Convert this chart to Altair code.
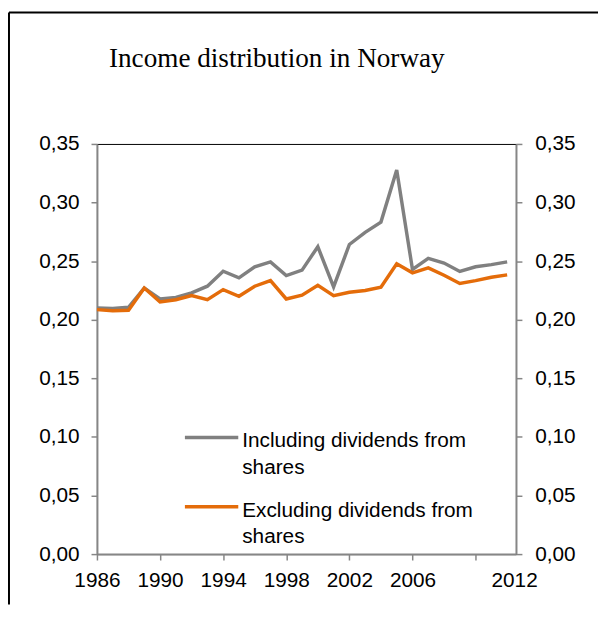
import altair as alt
import pandas as pd

# ---- data ----
years = list(range(1986, 2013))
including = [0.2100, 0.2097, 0.2106, 0.2271, 0.2177, 0.2190, 0.2229, 0.2286, 0.2414,
             0.2357, 0.2451, 0.2494, 0.2377, 0.2423, 0.2623, 0.2280, 0.2642, 0.2746,
             0.2833, 0.3277, 0.2429, 0.2523, 0.2484, 0.2412, 0.2452, 0.2470, 0.2494]
excluding = [0.2086, 0.2077, 0.2080, 0.2271, 0.2151, 0.2171, 0.2206, 0.2171, 0.2257,
             0.2200, 0.2286, 0.2334, 0.2177, 0.2209, 0.2294, 0.2206, 0.2234, 0.2249,
             0.2277, 0.2477, 0.2400, 0.2443, 0.2380, 0.2309, 0.2334, 0.2363, 0.2383]
series_names = ["Including dividends from shares", "Excluding dividends from shares"]
series_colors = ["#808080", "#E46C0A"]
x_tick_values = [1986, 1990, 1994, 1998, 2002, 2006, 2010]
x_last_label = 2012.44
y_tick_values = [0.0, 0.05, 0.10, 0.15, 0.20, 0.25, 0.30, 0.35]
title_text = "Income distribution in Norway"

df = pd.DataFrame({
    "year": years * 2,
    "value": including + excluding,
    "series": [series_names[0]] * len(years) + [series_names[1]] * len(years),
    "order": [0] * len(years) + [1] * len(years),
})

AXIS_GREY = "#868686"
SANS = "Liberation Sans"
FS = 21
W, H = 424, 415

color_enc = alt.Color("series:N", scale=alt.Scale(domain=series_names, range=series_colors), legend=None)

x_enc = alt.X(
    "year:Q",
    scale=alt.Scale(domain=[1986, 2012.56], nice=False, zero=False),
    axis=alt.Axis(
        values=x_tick_values + [x_last_label], format="d",
        labelExpr="datum.value == 2010 ? '' : datum.label",
        tickOpacity={"condition": {"test": "datum.value > 2011", "value": 0}, "value": 1},
        labelOverlap=False, labelFlush=False, grid=False, title=None,
        tickSize=6, labelPadding=9.5,
    ),
)

y_scale = alt.Scale(domain=[0, 0.35], nice=False)
ylab = "replace(format(datum.value, '.2f'), '.', ',')"

lines = alt.Chart(df).mark_line(strokeWidth=3.5).encode(
    x=x_enc,
    y=alt.Y("value:Q", scale=y_scale,
            axis=alt.Axis(values=y_tick_values, labelExpr=ylab, grid=False, title=None,
                          orient="left", tickSize=6, labelPadding=12)),
    color=color_enc,
    detail="order:N",
)

right_axis = alt.Chart(df).mark_line(opacity=0).encode(
    x=x_enc,
    y=alt.Y("value:Q", scale=y_scale,
            axis=alt.Axis(values=y_tick_values, labelExpr=ylab, grid=False, title=None,
                          orient="right", tickSize=6, labelPadding=13)),
)

one = pd.DataFrame({"a": [0]})
frame_top = alt.Chart(one).mark_rule(color="black", strokeWidth=2).encode(
    x=alt.value(-89), x2=alt.value(507), y=alt.value(-133))
frame_left = alt.Chart(one).mark_rule(color="black", strokeWidth=2).encode(
    x=alt.value(-89), y=alt.value(-133), y2=alt.value(466))

title = alt.Chart(one).mark_text(
    text=title_text, font="Liberation Serif", fontSize=27.5, align="center",
    baseline="alphabetic", color="black").encode(x=alt.value(182), y=alt.value(-78))

legend_df = pd.DataFrame({
    "series": series_names,
    "label": [s.replace(" shares", "\nshares") for s in series_names],
})
legend_layers = []
for i in range(len(series_names)):
    row = legend_df.iloc[[i]]
    legend_layers.append(
        alt.Chart(row).mark_rule(strokeWidth=3.5).encode(
            x=alt.value(89), x2=alt.value(143), y=alt.value(297 + 70 * i), color=color_enc))
    legend_layers.append(
        alt.Chart(row).mark_text(align="left", baseline="alphabetic", font=SANS, fontSize=FS,
                                 lineBreak="\n", lineHeight=27, color="black").encode(
            x=alt.value(147), y=alt.value(307 + 70 * i), text="label:N"))

chart = alt.layer(lines, right_axis, frame_top, frame_left, title, *legend_layers).resolve_axis(
    y="independent"
).properties(width=W, height=H, padding=0).configure_view(
    stroke="black", strokeWidth=1
).configure_axis(
    domainColor=AXIS_GREY, domainWidth=2, tickColor=AXIS_GREY, tickWidth=1.5,
    labelFont=SANS, labelFontSize=FS, labelColor="black",
)

chart.save("out.html", embed_options={"renderer": "svg", "actions": False})
